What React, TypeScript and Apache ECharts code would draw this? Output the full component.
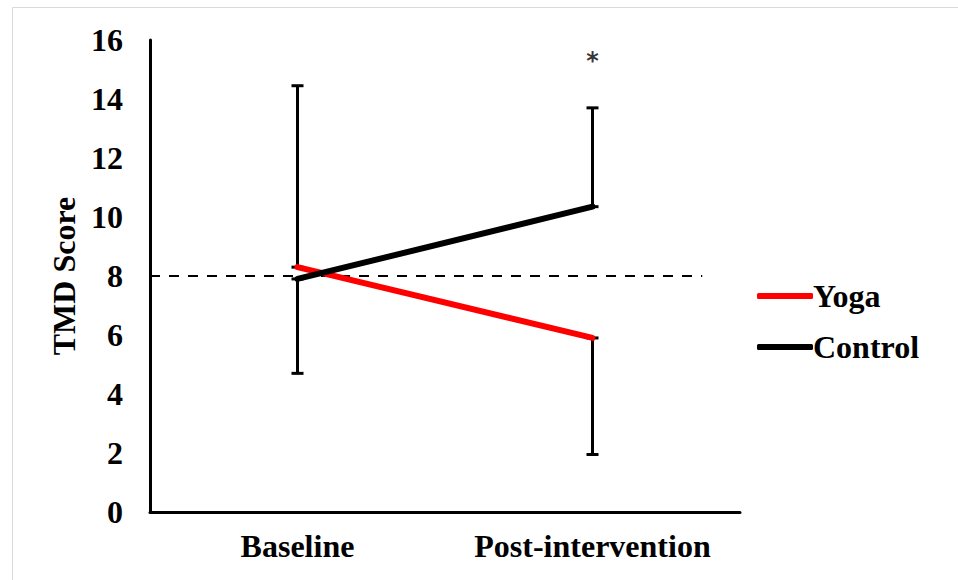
import React, { useEffect, useRef } from "react";
import * as echarts from "echarts";

const categories = ["Baseline", "Post-intervention"];
const yogaValues = [8.3, 5.9];
const controlValues = [7.9, 10.35];
const yogaErrorEnds = [14.45, 1.95];
const controlErrorEnds = [4.7, 13.7];
const referenceLevel = 8;
const significance = { category: 1, value: 15.3, mark: "*" };
const yTicks = { min: 0, max: 16, interval: 2 };

const FONT = "'Liberation Serif', 'Times New Roman', serif";

export default function App() {
  const ref = useRef<HTMLDivElement>(null);
  useEffect(() => {
    if (!ref.current) return;
    const chart = echarts.init(ref.current, null, { renderer: "svg" });
    const errorData: number[][] = [];
    categories.forEach((_, i) => {
      errorData.push([i, yogaValues[i], yogaErrorEnds[i]]);
      errorData.push([i, controlValues[i], controlErrorEnds[i]]);
    });
    chart.setOption({
      animation: false,
      backgroundColor: "#ffffff",
      graphic: [
        {
          type: "rect",
          shape: { x: 12.5, y: 7.5, width: 960, height: 600 },
          style: { fill: "none", stroke: "#d9d9d9", lineWidth: 1 },
          silent: true,
          z: -10,
        },
      ],
      grid: { left: 150, top: 40, width: 590, height: 472, containLabel: false },
      legend: {
        orient: "vertical",
        left: 752,
        top: 275,
        itemWidth: 56,
        itemHeight: 6,
        itemGap: 19,
        icon: "roundRect",
        data: ["Yoga", "Control"],
        textStyle: { fontFamily: FONT, fontWeight: "bold", fontSize: 32, color: "#000", padding: [0, 0, 0, -5] },
      },
      xAxis: {
        type: "category",
        data: categories,
        boundaryGap: true,
        axisLine: { lineStyle: { color: "#000", width: 3 } },
        axisTick: { show: false },
        axisLabel: { interval: 0, fontFamily: FONT, fontWeight: "bold", fontSize: 32, color: "#000", margin: 18 },
      },
      yAxis: {
        type: "value",
        min: yTicks.min,
        max: yTicks.max,
        interval: yTicks.interval,
        name: "TMD Score",
        nameLocation: "middle",
        nameGap: 68,
        nameTextStyle: { fontFamily: FONT, fontWeight: "bold", fontSize: 32, color: "#000" },
        axisLine: { show: true, lineStyle: { color: "#000", width: 3 } },
        axisTick: { show: false },
        splitLine: { show: false },
        axisLabel: { fontFamily: FONT, fontWeight: "bold", fontSize: 32, color: "#000", margin: 27 },
      },
      series: [
        {
          type: "custom",
          name: "reference",
          z: 1,
          silent: true,
          data: [[0, referenceLevel]],
          renderItem: (params: any, api: any) => {
            const cs = params.coordSys;
            const p = api.coord([0, api.value(1)]);
            return {
              type: "line",
              shape: { x1: cs.x, y1: p[1], x2: cs.x + cs.width * 0.936, y2: p[1] },
              style: { stroke: "#000", lineWidth: 2, lineDash: [10, 9] },
            };
          },
        },
        {
          type: "custom",
          name: "errors",
          z: 2,
          silent: true,
          data: errorData,
          renderItem: (params: any, api: any) => {
            const c = api.value(0);
            const a = api.coord([c, api.value(1)]);
            const b = api.coord([c, api.value(2)]);
            const style = { stroke: "#000", lineWidth: 3 };
            return {
              type: "group",
              children: [
                { type: "line", shape: { x1: a[0], y1: a[1], x2: b[0], y2: b[1] }, style },
                { type: "line", shape: { x1: b[0] - 6, y1: b[1], x2: b[0] + 6, y2: b[1] }, style },
                { type: "line", shape: { x1: a[0] - 6, y1: a[1], x2: a[0] + 6, y2: a[1] }, style },
              ],
            };
          },
        },
        {
          type: "line",
          name: "Yoga",
          data: yogaValues,
          symbol: "none",
          z: 3,
          lineStyle: { color: "#ff0000", width: 6, cap: "round" },
          itemStyle: { color: "#ff0000" },
        },
        {
          type: "line",
          name: "Control",
          data: controlValues,
          symbol: "none",
          z: 4,
          lineStyle: { color: "#000000", width: 6, cap: "round" },
          itemStyle: { color: "#000000" },
        },
        {
          type: "scatter",
          name: "sig",
          data: [[significance.category, significance.value]],
          symbolSize: 1,
          itemStyle: { color: "rgba(0,0,0,0)" },
          label: {
            show: true,
            position: "inside",
            formatter: significance.mark,
            fontFamily: "'DejaVu Sans', sans-serif",
            fontWeight: "bold",
            fontSize: 24,
            color: "#000",
            textBorderWidth: 0,
          },
        },
      ],
    });
    return () => chart.dispose();
  }, []);
  return (
    <div
      ref={ref}
      style={{ position: "fixed", left: 0, top: 0, width: 958, height: 580 }}
    />
  );
}
